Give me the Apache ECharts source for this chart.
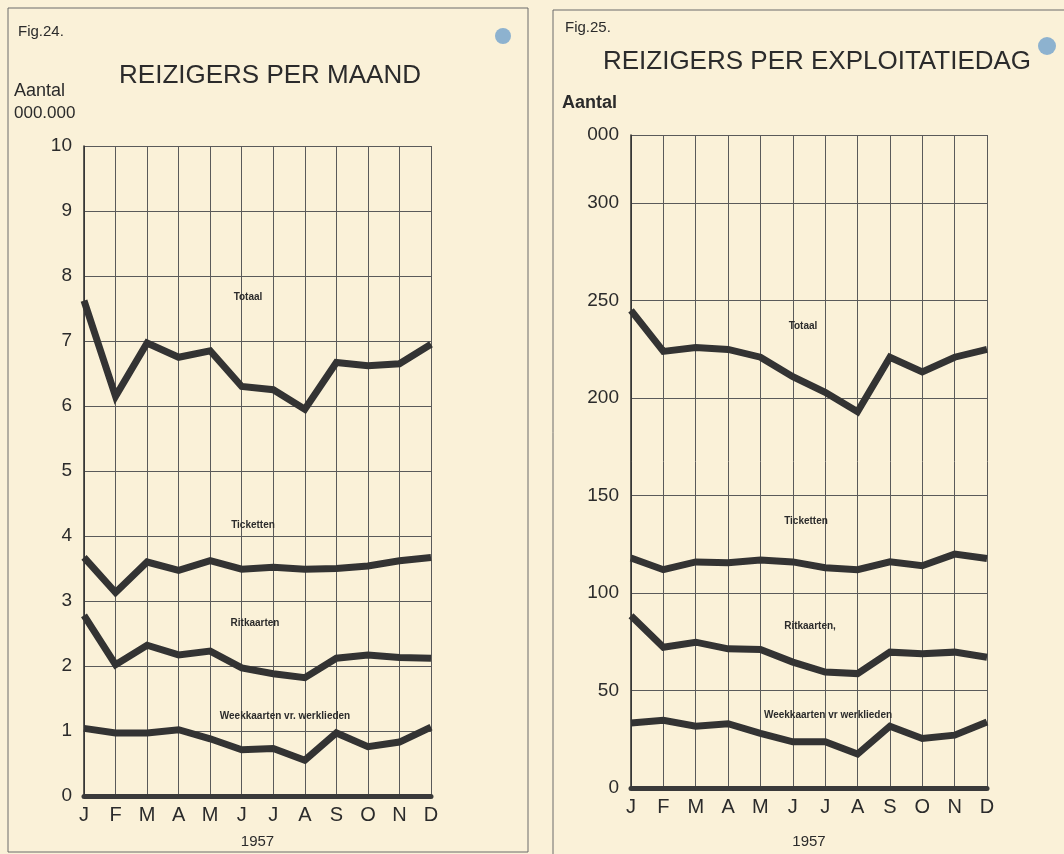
<!DOCTYPE html>
<html>
<head>
<meta charset="utf-8">
<script src="https://cdn.jsdelivr.net/npm/echarts@6/dist/echarts.min.js"></script>
<style>
  html, body { margin: 0; padding: 0; background: #faf1d8; }
  #chart { width: 1064px; height: 854px; }
</style>
</head>
<body>
<div id="chart"></div>
<script>
const months = ["J", "F", "M", "A", "M", "J", "J", "A", "S", "O", "N", "D"];

// Fig. 24 — reizigers per maand (x 1.000.000)
const monthTotaal = [7.62, 6.15, 6.97, 6.75, 6.85, 6.3, 6.25, 5.95, 6.67, 6.62, 6.65, 6.95];
const monthTicketten = [3.67, 3.13, 3.6, 3.47, 3.62, 3.49, 3.52, 3.49, 3.5, 3.54, 3.62, 3.67];
const monthRitkaarten = [2.78, 2.02, 2.32, 2.17, 2.23, 1.97, 1.88, 1.82, 2.12, 2.17, 2.13, 2.12];
const monthWeekkaarten = [1.04, 0.97, 0.97, 1.02, 0.88, 0.71, 0.73, 0.55, 0.97, 0.76, 0.83, 1.06];

// Fig. 25 — reizigers per exploitatiedag (x 1.000)
const dayTotaal = [245, 224, 226, 225, 221, 211, 203, 193, 221, 213.5, 221, 225];
const dayTicketten = [118, 112, 116, 115.6, 117, 116, 113, 112, 116, 114, 120, 117.7];
const dayRitkaarten = [88.4, 72.2, 74.8, 71.4, 71, 64.6, 59.5, 58.7, 69.7, 68.9, 69.7, 67.1];
const dayWeekkaarten = [33.4, 34.7, 31.7, 33, 28, 23.7, 23.7, 17.4, 31.7, 25.4, 27.1, 33.9];

const year = "1957";
const monthAxis = { min: 0, max: 10, interval: 1 };
const dayAxis = { min: 0, max: 335, interval: 50, topLabel: "000" };

const ink = "#2b2b2b";
const grid = "#5a5a5a";
const font = "Liberation Sans";

const chart = echarts.init(document.getElementById("chart"), null, { renderer: "canvas" });

function xAxis(gridIndex, nameGap) {
  return {
    type: "category",
    gridIndex,
    data: months,
    boundaryGap: false,
    name: year,
    nameLocation: "middle",
    nameGap,
    nameTextStyle: { color: ink, fontSize: 15, fontFamily: font },
    axisLine: { lineStyle: { color: "#3a3a3a", width: 5 } },
    axisTick: { show: false },
    axisLabel: { color: ink, fontSize: 20, fontFamily: font, margin: 9 },
    splitLine: { show: true, lineStyle: { color: grid, width: 1 } },
  };
}

function yAxis(gridIndex, scale, formatter) {
  return {
    type: "value",
    gridIndex,
    min: scale.min,
    max: scale.max,
    interval: scale.interval,
    axisLine: { show: true, lineStyle: { color: ink, width: 1.5 } },
    axisTick: { show: false },
    axisLabel: { color: ink, fontSize: 19, fontFamily: font, margin: 12, formatter },
    splitLine: { show: true, lineStyle: { color: grid, width: 1 } },
  };
}

function line(data, axisIndex) {
  return {
    type: "line",
    data,
    xAxisIndex: axisIndex,
    yAxisIndex: axisIndex,
    symbol: "none",
    silent: true,
    z: 5,
    lineStyle: { color: "#333333", width: 7, join: "miter", cap: "butt" },
  };
}

function text(x, y, str, size, opts = {}) {
  return {
    type: "text",
    x,
    y,
    silent: true,
    z: 10,
    style: {
      text: str,
      fill: ink,
      fontSize: size,
      fontFamily: font,
      fontWeight: opts.weight || "normal",
      align: opts.align || "left",
      verticalAlign: "middle",
    },
  };
}

const option = {
  backgroundColor: "#faf1d8",
  animation: false,
  grid: [
    { left: 84, top: 146, width: 347, height: 654 },
    { left: 631, top: 135, width: 356, height: 660 },
  ],
  xAxis: [xAxis(0, 38), xAxis(1, 46)],
  yAxis: [
    yAxis(0, monthAxis),
    yAxis(1, dayAxis, (v) => (v === dayAxis.max ? dayAxis.topLabel : String(v))),
  ],
  series: [
    line(monthTotaal, 0),
    line(monthTicketten, 0),
    line(monthRitkaarten, 0),
    line(monthWeekkaarten, 0),
    line(dayTotaal, 1),
    line(dayTicketten, 1),
    line(dayRitkaarten, 1),
    line(dayWeekkaarten, 1),
  ],
  graphic: [
    // panel borders
    { type: "rect", shape: { x: 8, y: 8, width: 520, height: 844 }, style: { fill: null, stroke: "#6a6a6a", lineWidth: 1 }, silent: true },
    { type: "rect", shape: { x: 553, y: 10, width: 530, height: 860 }, style: { fill: null, stroke: "#6a6a6a", lineWidth: 1 }, silent: true },
    // ink stamps
    { type: "circle", shape: { cx: 503, cy: 36, r: 8 }, style: { fill: "#8db2cf" }, silent: true },
    { type: "circle", shape: { cx: 1047, cy: 46, r: 9 }, style: { fill: "#8db2cf" }, silent: true },

    // Fig. 24
    text(18, 32, "Fig.24.", 15),
    text(270, 76, "REIZIGERS PER MAAND", 26, { align: "center" }),
    text(14, 91, "Aantal", 18),
    text(14, 113, "000.000", 17),
    text(248, 297, "Totaal", 10, { align: "center", weight: "bold" }),
    text(253, 525, "Ticketten", 10, { align: "center", weight: "bold" }),
    text(255, 623, "Ritkaarten", 10, { align: "center", weight: "bold" }),
    text(285, 716, "Weekkaarten vr. werklieden", 10, { align: "center", weight: "bold" }),

    // Fig. 25
    text(565, 28, "Fig.25.", 15),
    text(817, 62, "REIZIGERS PER EXPLOITATIEDAG", 26, { align: "center" }),
    text(562, 103, "Aantal", 18, { weight: "bold" }),
    text(803, 326, "Totaal", 10, { align: "center", weight: "bold" }),
    text(806, 521, "Ticketten", 10, { align: "center", weight: "bold" }),
    text(810, 626, "Ritkaarten,", 10, { align: "center", weight: "bold" }),
    text(828, 715, "Weekkaarten vr werklieden", 10, { align: "center", weight: "bold" }),
  ],
};

chart.setOption(option);
</script>
</body>
</html>
